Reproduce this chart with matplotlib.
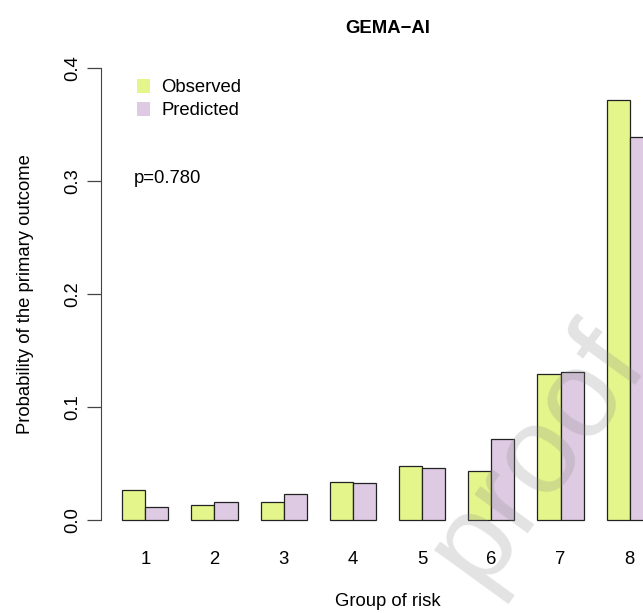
import numpy as np
import matplotlib.pyplot as plt
from matplotlib.patches import Patch

plt.rcParams['font.family'] = ['Liberation Sans', 'DejaVu Sans']

groups = ['1', '2', '3', '4', '5', '6', '7', '8']
observed = [0.0268, 0.0130, 0.0157, 0.0334, 0.0480, 0.0431, 0.1290, 0.3710]
predicted = [0.0115, 0.0162, 0.0227, 0.0325, 0.0463, 0.0720, 0.1310, 0.3390]
yticks = [0.0, 0.1, 0.2, 0.3, 0.4]
p_text = "p=0.780"

col_obs = '#E4F58B'
col_pred = '#DECBE3'
fs = 13.3

fig = plt.figure(figsize=(6.43, 6.13), dpi=100)
W, H = 643, 613
ax = fig.add_axes([101 / W, (H - 538) / H, (674 - 101) / W, (538 - 49.6) / H])

# R barplot layout: 2 bars per group, width 1, one unit space between groups
x0 = np.arange(len(groups)) * 3 + 1
ax.bar(x0 + 0.5, observed, width=1, color=col_obs, edgecolor='#222222', linewidth=0.9)
ax.bar(x0 + 1.5, predicted, width=1, color=col_pred, edgecolor='#222222', linewidth=0.9)

ax.set_xlim(0.08, 24.92)
ax.set_ylim(-0.016, 0.416)
for s in ['top', 'right', 'bottom']:
    ax.spines[s].set_visible(False)
ax.spines['left'].set_bounds(0, 0.4)
ax.spines['left'].set_color('#444444')

ax.set_yticks(yticks)
ax.set_yticklabels([f"{v:.1f}" for v in yticks], rotation=90, va='center', fontsize=fs)
ax.tick_params(axis='y', length=10, width=0.9, color='#444444', pad=4)
ax.set_xticks(x0 + 1)
ax.set_xticklabels(groups, fontsize=fs)
ax.tick_params(axis='x', length=0, pad=9)

ax.set_xlabel("Group of risk", fontsize=fs, labelpad=18)
ax.set_ylabel("Probability of the primary outcome", fontsize=fs, labelpad=22)
ax.set_title("GEMA\u2212AI", fontsize=fs, fontweight='bold', pad=12)

handles = [Patch(facecolor=col_obs, edgecolor='none', label='Observed'),
           Patch(facecolor=col_pred, edgecolor='none', label='Predicted')]
ax.legend(handles=handles, loc='upper left', bbox_to_anchor=(0.05, 0.955),
          frameon=False, fontsize=fs, handlelength=0.7, handleheight=0.8,
          handletextpad=0.6, labelspacing=0.3, borderaxespad=0)

ax.text(0.058, 0.298, p_text, transform=ax.get_yaxis_transform(), fontsize=fs,
        ha='left', va='baseline')

# faint watermark from the source page (cut off at the edge, as in the source)
fig.text(538 / W, 1 - 455 / H, "proof", fontsize=90, color='#888888', alpha=0.24,
         rotation=54, ha='center', va='center')

fig.savefig("out.png", dpi=100)
